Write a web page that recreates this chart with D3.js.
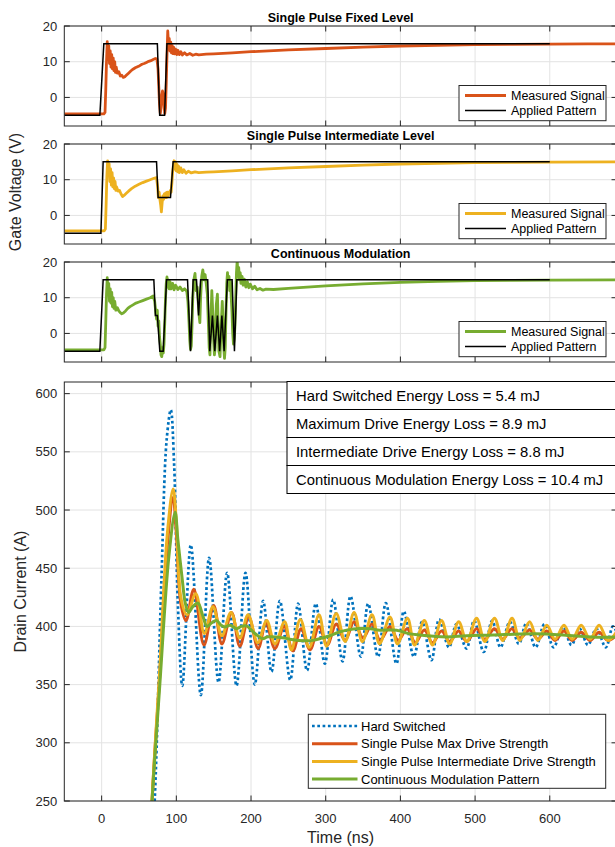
<!DOCTYPE html>
<html><head><meta charset="utf-8">
<script src="https://cdn.jsdelivr.net/npm/d3@7"></script>
<style>
body{margin:0;background:#fff;}
svg{display:block;font-family:"Liberation Sans",Arial,Helvetica,sans-serif;}
</style></head><body>
<svg id="chart" width="615" height="847"></svg>
<script>
// ---------- DATA ----------
const timeTicks = [0,100,200,300,400,500,600];
const gateTicks = [0,10,20];
const currentTicks = [250,300,350,400,450,500,550,600];

const panelTitles = ["Single Pulse Fixed Level","Single Pulse Intermediate Level","Continuous Modulation"];
const gateLegendLabels = ["Measured Signal","Applied Pattern"];
const currentLegendLabels = ["Hard Switched","Single Pulse Max Drive Strength","Single Pulse Intermediate Drive Strength","Continuous Modulation Pattern"];
const energyLabels = ["Hard Switched Energy Loss = 5.4 mJ","Maximum Drive Energy Loss = 8.9 mJ","Intermediate Drive Energy Loss = 8.8 mJ","Continuous Modulation Energy Loss = 10.4 mJ"];

// Gate voltage: [time ns, volts]
const patternFixed = [[-50,-5],[-2.4,-5],[2.9,15],[74.6,15],[77.7,-5],[84.3,-5],[87.4,15],[600,15]];
const measuredFixed = [[-50,-4.6],[3,-4.6],[4.5,-4.2],[5.5,2],[6.5,10],[7.5,15.6],[8.5,12],[9.5,14.5],[10.5,9.5],[11.5,13],[12.5,8.5],[13.5,12],[14.5,8],[15.5,11],[16.5,7.5],[17.5,10],[18.5,7],[19.5,8.5],[21,6.8],[23,7.2],[25,6],[27,6.2],[29,5.6],[31,5.8],[33,6.2],[36,6.8],[39,7.4],[42,7.9],[45,8.3],[48,8.6],[51,8.9],[54,9.3],[57,9.5],[60,9.8],[63,10.1],[66,10.3],[69,10.6],[72,10.9],[74,10.8],[75.5,8],[76.5,3],[77.5,-2],[78.5,-4.5],[79.5,-3],[80.5,0.5],[81.5,1.8],[82.5,1],[83.5,-2],[84.5,-4.5],[85.5,-3],[86.5,4],[87.5,12],[88.5,18.6],[89.5,15],[90.5,16.5],[91.5,13],[92.5,15.5],[93.5,12.5],[94.5,14.5],[95.5,12.3],[96.5,14],[97.5,12.2],[99,13.5],[100.5,12],[102,13.2],[104,12],[106,12.8],[108,11.9],[111,12.5],[114,11.9],[118,12.3],[122,11.8],[126,12.1],[130,11.9],[140,12.1],[150,12.2],[175,12.5],[200,12.8],[250,13.3],[300,13.7],[350,14.1],[400,14.4],[450,14.6],[500,14.8],[550,14.85],[600,14.9],[650,15],[700,15]];

const patternIntermediate = [[-50,-5],[-1,-5],[2,15],[73.5,15],[75.6,5],[92.2,5],[95.7,15],[600,15]];
const measuredIntermediate = [[-50,-4.3],[3.5,-4.3],[5,-3.8],[6,3],[7,11],[8,15.3],[9,12],[10,14.5],[11,9.5],[12,13],[13,8.5],[14,12],[15,8],[16,10.5],[17,7.5],[18,9.5],[19,7],[20,8],[22,6.8],[24,7],[26,6],[28,5.3],[30,5.6],[33,6.2],[36,6.8],[40,7.5],[45,8.2],[50,8.7],[55,9.2],[60,9.6],[65,10],[70,10.4],[73.5,10.6],[75,8],[76,5],[77,6.5],[78,4.5],[79,3],[80,1],[81,3.5],[82,5.5],[83,4.5],[84,6],[85,5],[86,6.3],[87,5],[88,6.5],[89,5.5],[90,6.5],[91,6],[92,7],[93,6.5],[94,9],[95,12],[96,14],[97,15.3],[98,13],[99,15],[100,12.5],[101,14.3],[102,12.2],[103,13.8],[104,12],[106,13.3],[108,12],[110,12.8],[113,11.8],[116,12.4],[120,11.9],[125,12.2],[130,12],[140,12.1],[150,12.2],[175,12.5],[200,12.8],[250,13.3],[300,13.7],[350,14.1],[400,14.4],[450,14.6],[500,14.8],[550,14.85],[600,14.9],[700,15]];

const patternContinuous = [[-50,-5],[-2.4,-5],[2,15],[69.9,15],[72,5],[74.6,5],[77.9,-5],[82.4,-5],[86.9,15],[115,15],[119,-5],[122.5,15],[127,15],[129.8,5],[132.5,15],[142,15],[144.8,-5],[148.3,5],[151.5,-5],[155,5],[158,-5],[161,5],[164,-5],[168.3,15],[174.7,15],[177.8,-5],[181,15],[600,15]];
const measuredContinuous = [[-50,-4.6],[3,-4.6],[4.5,-4],[5.5,3],[6.5,11],[7.5,15.6],[8.5,12],[9.5,14],[10.5,9],[11.5,12.5],[12.5,8.5],[13.5,11.5],[14.5,7.5],[15.5,10],[16.5,7],[17.5,9],[19,6.5],[21,7.2],[23,6.3],[25,5.8],[27,5.5],[29,5.7],[32,6.3],[35,7],[38,7.5],[42,8],[46,8.5],[50,8.8],[55,9.2],[60,9.6],[65,10],[69,10.5],[71,9],[72.5,6],[73.5,4],[74.5,6.5],[75.5,2],[76.5,3.5],[77.5,-1],[78.5,-3],[79.5,-6],[80.5,-6.5],[81.5,-4],[82.5,-5.5],[83.5,-3],[84.5,3],[85.5,10],[86.5,14],[87.5,15.8],[88.5,13],[89.5,15],[90.5,12.5],[91.5,14.5],[93,12.5],[95,14],[97,12.2],[99,13.5],[102,12.3],[105,13],[108,12],[111,12.5],[114,11.8],[115.5,9],[117,3],[118,-2],[119,-4.5],[120,-3.5],[121,2],[122,10],[123.5,15],[125,16.8],[126.5,12],[128,13],[129.5,8],[130.5,5],[131.5,3],[132.5,10],[134,16],[135.5,17.8],[137,15],[138.5,16.5],[140,14],[141.5,11],[143,2],[144,-4],[145,-6],[146,2],[147.5,12],[149,5],[150,-2],[151,-6],[152,-4],[153.5,8],[155,11],[156,3],[157,-5],[158.5,-6.5],[160,2],[161.5,9],[162.5,4],[163.5,-4],[164.5,-7],[165.5,-4],[166.5,6],[167.5,14],[168.5,17],[169.5,14],[170.5,16],[171.5,12],[172.5,14.5],[173.5,10],[174.5,6],[175.5,0],[176.5,-3],[177.5,-1.5],[178.5,2],[179.5,10],[180.5,17],[181.5,20.5],[182.5,16],[183.5,18.5],[184.5,15],[185.5,17],[186.5,14],[188,16],[189.5,13.5],[191,15.2],[193,13],[195,14.5],[197,12.8],[199,13.8],[202,12.5],[205,13.2],[208,12.2],[212,12.6],[216,12.1],[220,12.4],[230,12.3],[250,12.6],[300,13.3],[350,13.9],[400,14.3],[450,14.6],[500,14.8],[550,14.85],[600,14.9],[700,15]];

// Drain current: [time ns, amps]
const hardSwitched = [[62,150],[71,250],[80,440],[87,560],[92.6,586],[97,540],[102,420],[108,349],[119.4,470],[132.8,341],[143.9,459],[156.5,352],[168,446],[180.6,349],[192.6,446],[205,350],[216.2,422],[227.4,361],[238.6,422],[252.5,354],[263,419.6],[275,362],[286.7,419.6],[298.8,368],[310,423],[322.5,370],[333.2,426],[347,374],[356.8,419.6],[370,374],[380.5,420],[394.7,368],[404.6,413],[418,374],[429,404],[441.6,371],[451.8,406],[465,382],[475,402],[488.5,381],[498.7,405],[511.6,378],[522.8,405],[534,382],[546.5,404],[558.5,385],[568.8,403],[581,382],[593,402],[605,382],[617.8,399.5],[629,384],[640,398],[651,384],[662.5,398],[675,382],[684.7,400],[695,385]];
const maxDrive = [[62,150],[67.5,250],[78,360],[88,470],[95.7,511],[100,480],[106,420],[113,405],[123.4,432],[137,384],[150,418],[161,385],[174,412],[185,383],[197,408],[209.5,381],[220,403],[232,381],[244.3,400],[256,379],[267,398],[279,380],[291,400],[302,384],[314,402],[326,388],[338,404],[350,390],[362,402],[373,388],[386,400],[397,388],[409,398],[420,386],[432,397],[443,386],[455,396],[466,387],[478,396],[489,387],[502,398],[513,389],[526,398],[537,389],[549,398],[560,390],[573,397],[584,389],[596,396],[607,388],[619,396],[630,388],[642,395],[654,388],[666,395],[678,388],[690,393]];
const intermediateDrive = [[62,150],[67.5,250],[78,365],[88,480],[95.7,518],[100,490],[106,425],[114,410],[126,428],[137.5,394],[149,417],[161,392],[173,412],[185,390],[196,410],[209,386],[221,405],[232,385],[245,404],[254,380],[266,406],[278,382],[291,410],[301,383],[314,411],[326,387],[338,412],[349,387],[362,410],[372,385],[386,408],[396,385],[409.5,407],[419,384],[432,405],[443,384],[455,405],[466,385],[478,404],[489,387],[502,407],[513,387],[526,407],[537,388],[549.5,407],[560,388],[573,404],[584,388],[596,401],[607,389],[619,401],[630,389],[642,401],[654,389],[666,401],[678,388],[690,396]];
const continuousMod = [[60,150],[67.5,250],[78,351],[90,460],[98.4,498],[102,475],[108,440],[112,420],[116.5,412],[122,417],[129,420],[135,410],[141,400],[147,403],[153.8,405],[160,401],[165,399.5],[172,401],[180.6,398],[187,400],[194,400.5],[200,397],[207,393],[215.4,389.5],[222,391],[234,391],[245,390],[252,389],[264,388],[283,388],[295,390],[305.5,392],[317,395],[327.8,396.8],[345.6,398.2],[360,398],[372.4,396.8],[395,396.8],[410,394],[426,392.6],[445,391.5],[461.7,391],[489,392],[524,392.6],[560,393.5],[595.6,393.5],[631,392],[667,390.7],[690,391]];

// ---------- LAYOUT ----------
const C = {blue:"#0072BD", orange:"#D95319", yellow:"#EDB120", green:"#77AC30", axis:"#262626", grid:"#e3e3e3"};
const L = 64.3, R = 617;
const svg = d3.select("#chart");
const x = d3.scaleLinear().domain([-50,690]).range([L,R]);
const tickLen = 5.5;

function frame(g, y, yticks, top, bottom){
  g.append("g").selectAll("line").data(timeTicks).join("line")
    .attr("x1",d=>x(d)).attr("x2",d=>x(d)).attr("y1",top).attr("y2",bottom)
    .attr("stroke",C.grid).attr("stroke-width",1);
  g.append("g").selectAll("line").data(yticks).join("line")
    .attr("x1",L).attr("x2",R).attr("y1",d=>y(d)).attr("y2",d=>y(d))
    .attr("stroke",C.grid).attr("stroke-width",1);
}
function axesBox(g, y, yticks, xLabels, top, bottom){
  const ax = g.append("g").attr("stroke",C.axis).attr("stroke-width",1).attr("fill","none");
  ax.append("rect").attr("x",L).attr("y",top).attr("width",R-L).attr("height",bottom-top);
  timeTicks.forEach(t=>{
    ax.append("line").attr("x1",x(t)).attr("x2",x(t)).attr("y1",bottom).attr("y2",bottom-tickLen);
    ax.append("line").attr("x1",x(t)).attr("x2",x(t)).attr("y1",top).attr("y2",top+tickLen);
  });
  yticks.forEach(v=>{
    ax.append("line").attr("x1",L).attr("x2",L+tickLen).attr("y1",y(v)).attr("y2",y(v));
    ax.append("line").attr("x1",R).attr("x2",R-tickLen).attr("y1",y(v)).attr("y2",y(v));
  });
  g.append("g").selectAll("text").data(yticks).join("text")
    .attr("x",L-7).attr("y",d=>y(d)).attr("dy","0.35em").attr("text-anchor","end")
    .attr("font-size",13).attr("fill",C.axis).text(d=>d);
  if(xLabels){
    g.append("g").selectAll("text").data(timeTicks).join("text")
      .attr("x",d=>x(d)).attr("y",bottom+21.5).attr("text-anchor","middle")
      .attr("font-size",13).attr("fill",C.axis).text(d=>d);
  }
}

// ---------- GATE PANELS ----------
const panels = [
  {top:26, meas:measuredFixed, pat:patternFixed, color:C.orange},
  {top:144, meas:measuredIntermediate, pat:patternIntermediate, color:C.yellow},
  {top:262, meas:measuredContinuous, pat:patternContinuous, color:C.green}
];
panels.forEach((p,i)=>{
  const top=p.top, bottom=p.top+100;
  const y = d3.scaleLinear().domain([-8,20]).range([bottom,top]);
  const g = svg.append("g");
  frame(g,y,gateTicks,top,bottom);
  const clipId="clipg"+i;
  svg.append("clipPath").attr("id",clipId).append("rect").attr("x",L).attr("y",top).attr("width",R-L).attr("height",bottom-top);
  const line = d3.line().x(d=>x(d[0])).y(d=>y(d[1]));
  const lg = g.append("g").attr("clip-path",`url(#${clipId})`);
  lg.append("path").attr("d",line(p.meas)).attr("fill","none").attr("stroke",p.color).attr("stroke-width",2.8).attr("stroke-linejoin","round");
  lg.append("path").attr("d",line(p.pat)).attr("fill","none").attr("stroke","#000").attr("stroke-width",1.5);
  axesBox(g,y,gateTicks,false,top,bottom);
  g.append("text").attr("x",(L+R)/2).attr("y",top-4.5).attr("text-anchor","middle")
    .attr("font-size",12.5).attr("font-weight","bold").attr("fill","#000").text(panelTitles[i]);
  const lgd = g.append("g");
  lgd.append("rect").attr("x",459).attr("y",top+59.5).attr("width",147).attr("height",35.2)
    .attr("fill","#fff").attr("stroke",C.axis).attr("stroke-width",1);
  [[p.color,2.8],["#000",1.5]].forEach((s,k)=>{
    const yy = top+69.5+k*15;
    lgd.append("line").attr("x1",465).attr("x2",506).attr("y1",yy).attr("y2",yy).attr("stroke",s[0]).attr("stroke-width",s[1]);
    lgd.append("text").attr("x",511).attr("y",yy).attr("dy","0.35em").attr("font-size",12.5).attr("fill","#000").text(gateLegendLabels[k]);
  });
});
svg.append("text").attr("transform","translate(21,192) rotate(-90)").attr("text-anchor","middle")
  .attr("font-size",16).attr("fill",C.axis).text("Gate Voltage (V)");

// ---------- CURRENT PLOT ----------
{
  const top=382, bottom=801;
  const y = d3.scaleLinear().domain([250,610]).range([bottom,top]);
  const g = svg.append("g");
  frame(g,y,currentTicks,top,bottom);
  svg.append("clipPath").attr("id","clipc").append("rect").attr("x",L).attr("y",top).attr("width",R-L).attr("height",bottom-top);
  const line = d3.line().x(d=>x(d[0])).y(d=>y(d[1])).curve(d3.curveCatmullRom.alpha(0.5));
  const lg = g.append("g").attr("clip-path","url(#clipc)");
  const series = [
    {d:hardSwitched,c:C.blue,w:2.7,dash:"2.7,2.6"},
    {d:maxDrive,c:C.orange,w:3},
    {d:intermediateDrive,c:C.yellow,w:3},
    {d:continuousMod,c:C.green,w:3}
  ];
  series.forEach(s=>{
    lg.append("path").attr("d",line(s.d)).attr("fill","none").attr("stroke",s.c)
      .attr("stroke-width",s.w).attr("stroke-dasharray",s.dash||null).attr("stroke-linejoin","round");
  });
  axesBox(g,y,currentTicks,true,top,bottom);
  const et = g.append("g");
  energyLabels.forEach((t,k)=>{
    const y0 = 381.5+k*28;
    et.append("rect").attr("x",287).attr("y",y0).attr("width",R-287).attr("height",28)
      .attr("fill","#fff").attr("stroke","#000").attr("stroke-width",1);
    et.append("text").attr("x",296).attr("y",y0+14).attr("dy","0.36em").attr("font-size",14.8).attr("fill","#000").text(t);
  });
  const lgd = g.append("g");
  lgd.append("rect").attr("x",308.3).attr("y",714.3).attr("width",297.4).attr("height",74)
    .attr("fill","#fff").attr("stroke",C.axis).attr("stroke-width",1);
  series.forEach((s,k)=>{
    const yy = 726+k*17.7;
    lgd.append("line").attr("x1",312).attr("x2",357.5).attr("y1",yy).attr("y2",yy).attr("stroke",s.c)
      .attr("stroke-width",s.w).attr("stroke-dasharray",s.dash||null);
    lgd.append("text").attr("x",361).attr("y",yy).attr("dy","0.35em").attr("font-size",13).attr("fill","#000").text(currentLegendLabels[k]);
  });
  svg.append("text").attr("transform","translate(26,591.5) rotate(-90)").attr("text-anchor","middle")
    .attr("font-size",16).attr("fill",C.axis).text("Drain Current (A)");
  svg.append("text").attr("x",340.6).attr("y",843).attr("text-anchor","middle")
    .attr("font-size",16).attr("fill",C.axis).text("Time (ns)");
}
</script>
</body></html>
